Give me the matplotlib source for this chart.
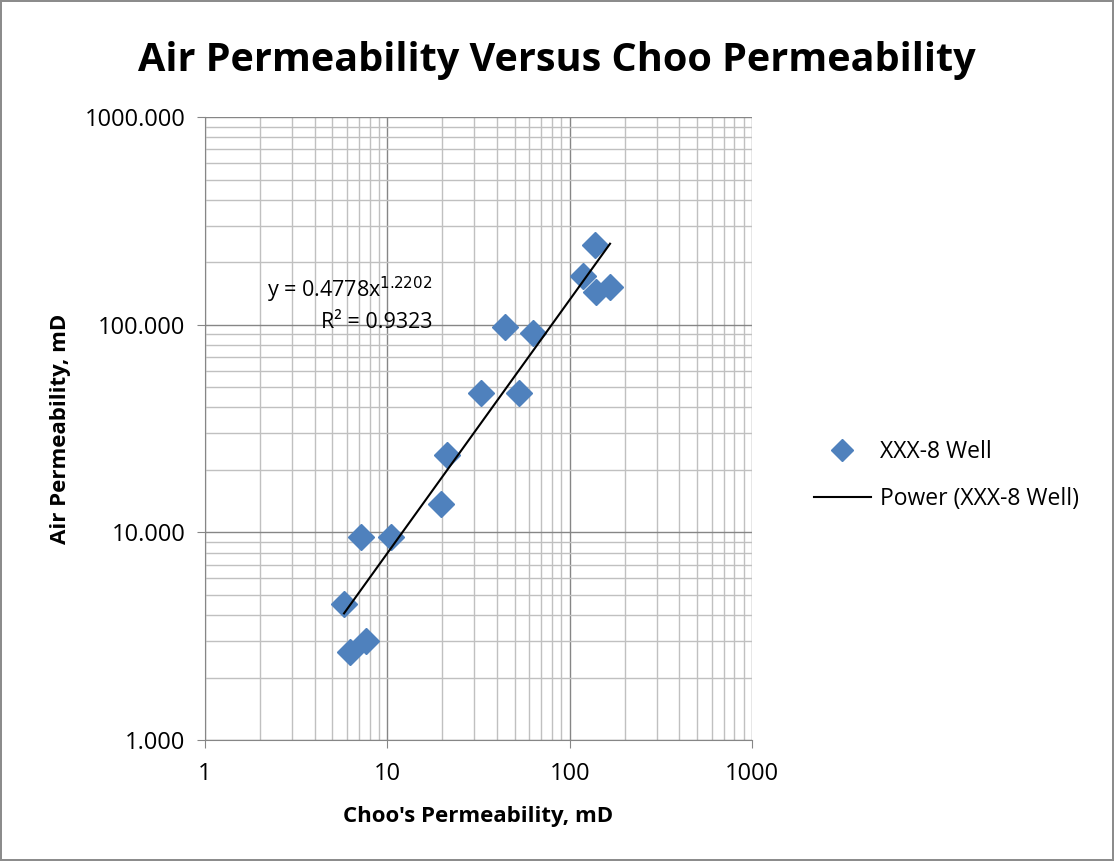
import numpy as np
import matplotlib.pyplot as plt
from matplotlib.ticker import FixedLocator, LogLocator, NullFormatter, FuncFormatter

# datos (Choo vs aire)
choo = [137.8, 118.5, 139.6, 166.6, 44.2, 63.0, 32.7, 52.8, 21.3, 19.7, 7.17, 10.5, 5.79, 7.64, 6.24]
aire = [241.6, 171.5, 143.6, 151.7, 97.3, 91.1, 46.9, 46.9, 23.6, 13.7, 9.49, 9.49, 4.52, 3.00, 2.65]

# coeficientes de la linea de tendencia (potencia)
a_coef = 0.4778
b_coef = 1.2202
r2 = 0.9323

xticks = [1, 10, 100, 1000]
yticks = [1, 10, 100, 1000]

plt.rcParams['font.family'] = ['Open Sans', 'DejaVu Sans']

fig = plt.figure(figsize=(11.14, 8.61), dpi=100)
fig.patch.set_edgecolor('#8c8c8c')
fig.patch.set_linewidth(1.5)
ax = fig.add_axes([0.184, 0.1405, 0.491, 0.7235])

ax.set_xscale('log')
ax.set_yscale('log')
ax.set_xlim(1, 1000)
ax.set_ylim(1, 1000)

ax.xaxis.set_major_locator(FixedLocator(xticks))
ax.yaxis.set_major_locator(FixedLocator(yticks))
ax.xaxis.set_minor_locator(LogLocator(base=10, subs=np.arange(2, 10)))
ax.yaxis.set_minor_locator(LogLocator(base=10, subs=np.arange(2, 10)))
ax.xaxis.set_minor_formatter(NullFormatter())
ax.yaxis.set_minor_formatter(NullFormatter())
ax.xaxis.set_major_formatter(FuncFormatter(lambda v, p: '%d' % v))
ax.yaxis.set_major_formatter(FuncFormatter(lambda v, p: '%.3f' % v))

ax.grid(True, which='major', color='#868686', lw=1.0)
ax.grid(True, which='minor', color='#c0c0c0', lw=1.0)
ax.set_axisbelow(True)
for s in ['top', 'right']:
    ax.spines[s].set_visible(False)
for s in ['left', 'bottom']:
    ax.spines[s].set_color('#868686')
ax.tick_params(which='major', length=6, color='#868686', labelsize=17)
ax.tick_params(axis='x', pad=10)
ax.tick_params(axis='y', pad=8)
ax.tick_params(which='minor', length=0)

ax.plot(choo, aire, 'D', color='#4F81BD', ms=13, ls='none', label='XXX-8 Well', zorder=3)

xx = np.linspace(min(choo), max(choo), 200)
ax.plot(xx, a_coef * xx**b_coef, color='black', lw=1.5, label='Power (XXX-8 Well)', zorder=4)

ax.text(17.6, 147, 'y = %.4fx$^{%.4f}$' % (a_coef, b_coef), ha='right', va='center', fontsize=15.5)
ax.text(17.6, 103, 'R² = %.4f' % r2, ha='right', va='center', fontsize=15.5)

fig.text(0.5, 0.93, 'Air Permeability Versus Choo Permeability', ha='center', va='center',
         fontsize=28.5, fontweight='bold')
ax.set_xlabel("Choo's Permeability, mD", fontsize=16, fontweight='bold', labelpad=14)
ax.set_ylabel('Air Permeability, mD', fontsize=16, fontweight='bold', labelpad=10)

ax.legend(loc='center left', bbox_to_anchor=(1.075, 0.424), frameon=False, fontsize=16.5,
          handlelength=2.5, handletextpad=0.4, labelspacing=1.0, markerscale=0.85)

fig.savefig('out.png', dpi=100)
